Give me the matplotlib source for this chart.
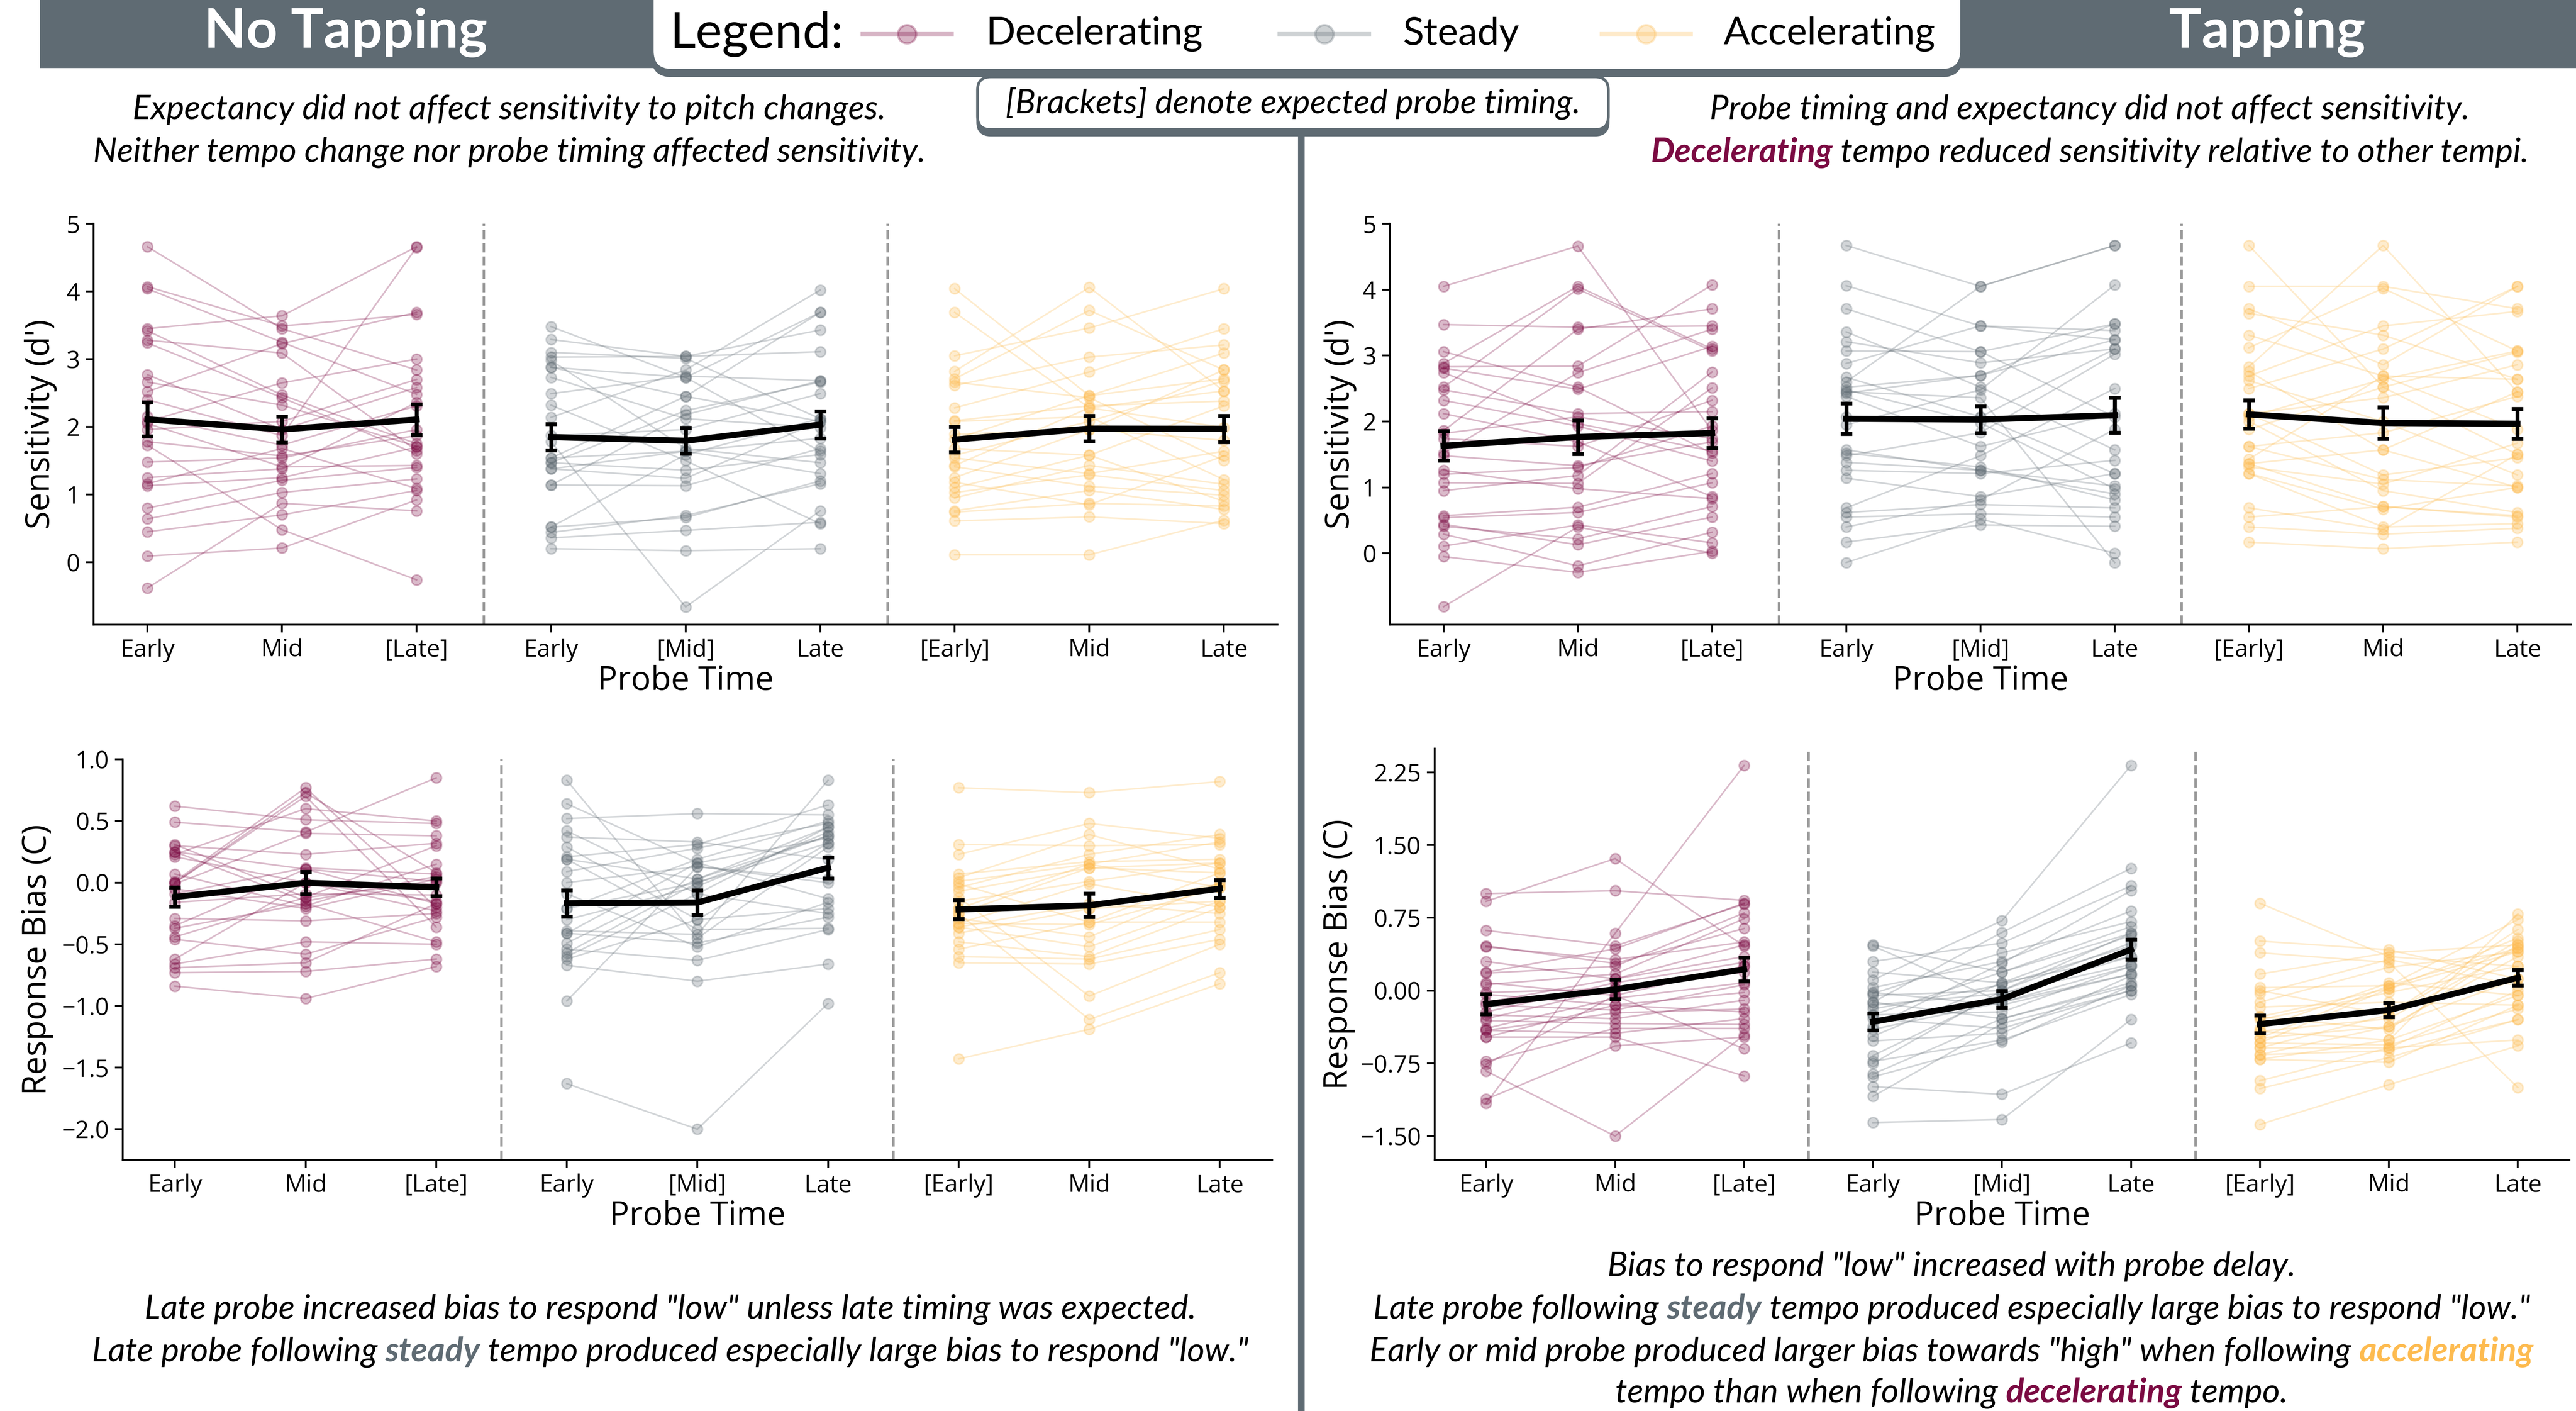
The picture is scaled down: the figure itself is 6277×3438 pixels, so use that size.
import numpy as np
import matplotlib
matplotlib.use('Agg')
import matplotlib.pyplot as plt
from matplotlib.patches import Rectangle, FancyBboxPatch
from matplotlib.lines import Line2D
from matplotlib.ticker import FuncFormatter

plt.rcParams['font.family'] = ['Open Sans', 'DejaVu Sans']

DECEL = '#7B0A42'
STEADY = '#5F6B73'
ACCEL = '#FDBB50'
SLATE = '#5F6B73'

# ---- No Tapping, sensitivity (d') : one value per participant, Early / Mid / Late
nt_sens_dec_early = [4.66, 4.07, 4.04, 3.45, 3.42, 3.28, 3.24, 2.77, 2.66, 2.52, 2.40, 2.15, 2.08, 2.05, 1.96, 1.78, 1.73, 1.48, 1.25, 1.16, 1.13, 0.80, 0.64, 0.45, 0.09, -0.38]
nt_sens_dec_mid = [3.45, 3.49, 3.25, 3.64, 2.47, 3.09, 2.43, 1.96, 2.32, 3.23, 1.87, 1.73, 2.65, 1.41, 2.08, 1.57, 0.48, 1.54, 1.38, 1.68, 1.25, 1.21, 1.03, 0.70, 0.21, 0.87]
nt_sens_dec_late = [2.84, 3.66, 2.48, 4.66, 1.75, 1.65, 1.60, 2.58, 1.71, 3.69, 4.65, 2.31, 3.00, 1.43, 2.70, 1.87, -0.26, 1.96, 2.36, 1.09, 1.70, 1.40, 1.23, 1.06, 0.92, 0.76]

nt_sens_std_early = [3.48, 3.29, 3.10, 3.03, 2.98, 2.88, 2.88, 2.73, 2.49, 2.32, 2.14, 1.87, 1.78, 1.54, 1.54, 1.47, 1.47, 1.38, 1.38, 1.14, 1.14, 0.52, 0.52, 0.44, 0.36, 0.20]
nt_sens_std_mid = [2.73, 3.04, 3.01, 3.04, 1.68, 2.45, 2.73, 2.12, 2.75, 1.50, 2.84, 1.96, -0.66, 2.45, 1.64, 2.24, 1.36, 1.24, 1.64, 2.18, 1.13, 1.59, 0.66, 0.69, 0.47, 0.17]
nt_sens_std_late = [1.64, 3.43, 2.12, 3.11, 1.47, 2.08, 3.69, 1.99, 2.68, 0.57, 4.02, 2.49, 0.76, 3.69, 1.83, 2.66, 1.59, 2.08, 1.31, 2.68, 1.68, 2.12, 1.20, 1.16, 0.59, 0.20]

nt_sens_acc_early = [4.04, 3.69, 3.05, 2.82, 2.71, 2.66, 2.61, 2.28, 2.09, 2.08, 1.89, 1.82, 1.68, 1.58, 1.54, 1.43, 1.41, 1.25, 1.18, 1.10, 1.03, 0.95, 0.76, 0.74, 0.61, 0.11]
nt_sens_acc_mid = [2.46, 2.28, 3.46, 4.06, 3.72, 2.43, 3.03, 2.81, 2.31, 2.15, 1.96, 2.46, 1.58, 2.08, 1.31, 2.28, 1.12, 1.96, 0.85, 1.58, 1.29, 1.43, 1.06, 0.87, 0.67, 0.11]
nt_sens_acc_late = [2.71, 1.99, 4.04, 2.53, 2.84, 1.50, 3.21, 3.45, 2.38, 1.22, 2.84, 3.09, 0.90, 2.68, 1.64, 2.53, 0.99, 1.80, 1.57, 2.31, 1.06, 1.15, 0.78, 0.83, 0.57, 0.62]

# ---- Tapping, sensitivity (d')
tap_sens_dec_early = [4.05, 3.47, 3.06, 2.88, 2.83, 2.81, 2.74, 2.52, 2.48, 2.32, 2.12, 1.86, 1.82, 1.74, 1.52, 1.48, 1.26, 1.20, 1.07, 0.95, 0.57, 0.54, 0.44, 0.41, 0.29, 0.11, -0.05, -0.81]
tap_sens_dec_mid = [4.66, 3.43, 2.52, 4.05, 2.84, 2.49, 1.97, 4.01, 2.12, 1.93, 1.69, 3.40, 2.07, 1.62, 2.74, 1.33, 0.98, 1.30, 1.06, 1.18, 0.70, 0.62, 0.13, 0.22, -0.19, 0.43, -0.29, 0.40]
tap_sens_dec_late = [1.86, 3.45, 1.52, 3.10, 4.07, 3.14, 1.55, 3.07, 2.15, 1.40, 0.86, 3.71, 1.74, 2.32, 3.40, 1.69, 0.83, 1.93, 2.51, 2.75, 1.21, 1.07, 0.55, 0.71, 0.32, 0.16, 0.03, 0.00]

tap_sens_std_early = [4.67, 4.06, 3.71, 3.36, 3.21, 3.07, 2.88, 2.67, 2.60, 2.52, 2.48, 2.45, 2.43, 2.38, 2.07, 1.95, 1.57, 1.52, 1.48, 1.38, 1.26, 1.14, 0.69, 0.62, 0.55, 0.40, 0.17, -0.14]
tap_sens_std_mid = [4.05, 3.45, 3.06, 2.52, 2.89, 3.06, 3.45, 2.07, 4.05, 2.70, 1.98, 2.36, 2.70, 1.62, 2.07, 2.48, 1.26, 1.31, 1.83, 1.26, 1.21, 0.86, 1.48, 0.74, 0.60, 0.81, 0.43, 0.52]
tap_sens_std_late = [4.67, 3.24, 3.48, 1.57, 3.10, 2.07, 3.38, 1.21, 4.67, 3.24, 0.98, -0.14, 3.48, 2.12, 3.10, 4.07, 1.02, 0.81, 3.02, 0.90, 1.41, 1.21, 2.50, 0.69, 0.55, 1.88, 0.41, 0.00]

tap_sens_acc_early = [4.67, 4.05, 3.71, 3.64, 3.31, 3.12, 2.83, 2.76, 2.69, 2.62, 2.50, 2.12, 2.12, 2.07, 2.00, 1.88, 1.62, 1.62, 1.43, 1.36, 1.36, 1.31, 1.21, 1.21, 0.69, 0.55, 0.40, 0.17]
tap_sens_acc_mid = [2.52, 4.05, 2.86, 3.31, 2.69, 4.02, 4.67, 1.57, 3.45, 2.00, 3.10, 2.36, 1.19, 2.64, 0.95, 2.52, 1.83, 1.12, 2.69, 0.71, 1.57, 1.05, 0.67, 0.40, 0.36, 0.71, 0.29, 0.07]
tap_sens_acc_late = [1.50, 3.71, 4.05, 2.64, 1.88, 3.07, 2.45, 1.00, 3.67, 1.19, 4.05, 2.86, 1.45, 3.07, 0.62, 3.05, 2.38, 1.02, 2.64, 0.57, 2.45, 1.67, 1.00, 0.45, 1.50, 0.55, 0.38, 0.17]

# ---- No Tapping, response bias (C)
nt_bias_dec_early = [0.62, 0.49, 0.31, 0.30, 0.25, 0.25, 0.23, 0.21, 0.07, 0.01, 0.00, 0.00, -0.01, -0.05, -0.09, -0.16, -0.29, -0.35, -0.37, -0.44, -0.46, -0.62, -0.66, -0.69, -0.73, -0.84]
nt_bias_dec_mid = [0.51, 0.41, -0.12, 0.23, 0.11, -0.15, 0.60, 0.00, -0.19, 0.77, 0.73, 0.70, 0.40, -0.21, 0.12, -0.09, -0.31, 0.11, -0.17, -0.12, -0.58, 0.00, -0.48, -0.65, -0.72, -0.94]
nt_bias_dec_late = [0.48, 0.85, 0.30, 0.32, -0.17, 0.05, 0.50, -0.23, 0.15, -0.20, 0.08, -0.36, 0.38, 0.03, 0.07, -0.10, -0.25, 0.01, -0.48, 0.00, -0.28, -0.15, -0.50, -0.17, -0.62, -0.68]

nt_bias_std_early = [0.83, 0.64, 0.52, 0.42, 0.37, 0.29, 0.21, 0.19, 0.19, 0.09, 0.00, -0.09, -0.21, -0.21, -0.30, -0.39, -0.41, -0.41, -0.49, -0.54, -0.57, -0.60, -0.62, -0.67, -0.96, -1.63]
nt_bias_std_mid = [-0.45, 0.16, 0.56, -0.09, 0.33, -0.30, 0.31, 0.03, -0.38, 0.28, 0.13, -0.52, 0.19, 0.00, -0.03, -0.42, 0.16, -0.49, 0.03, -0.63, 0.00, -0.09, -0.30, -0.80, 0.13, -2.00]
nt_bias_std_late = [0.29, -0.13, 0.55, 0.45, 0.19, -0.21, 0.63, 0.38, -0.37, 0.48, 0.03, -0.16, 0.50, 0.32, 0.41, 0.83, 0.36, -0.28, 0.45, -0.38, 0.38, -0.25, 0.32, -0.66, 0.00, -0.98]

nt_bias_acc_early = [0.77, 0.31, 0.23, 0.07, 0.04, 0.01, -0.01, -0.04, -0.07, -0.12, -0.15, -0.21, -0.21, -0.25, -0.25, -0.29, -0.33, -0.33, -0.36, -0.36, -0.41, -0.48, -0.54, -0.60, -0.65, -1.43]
nt_bias_acc_mid = [0.73, 0.30, 0.48, 0.17, 0.39, 0.15, -0.32, 0.23, 0.12, -0.92, 0.01, 0.15, -0.21, 0.12, -1.11, -0.44, -0.01, -0.34, -0.17, -0.52, -0.21, -0.60, -0.32, -0.62, -0.66, -1.19]
nt_bias_acc_late = [0.82, 0.31, 0.36, 0.19, 0.11, 0.33, 0.08, 0.39, 0.16, -0.50, 0.16, -0.04, -0.15, 0.08, -0.73, 0.00, -0.20, -0.04, -0.25, -0.15, -0.01, -0.20, -0.32, -0.38, -0.46, -0.82]

# ---- Tapping, response bias (C)
tap_bias_dec_early = [1.00, 0.92, 0.62, 0.46, 0.45, 0.30, 0.19, 0.18, 0.08, 0.06, -0.02, -0.04, -0.12, -0.15, -0.22, -0.25, -0.29, -0.31, -0.39, -0.41, -0.41, -0.48, -0.48, -0.73, -0.76, -0.83, -1.12, -1.16]
tap_bias_dec_mid = [1.03, 1.36, 0.46, 0.28, 0.32, 0.12, 0.43, 0.25, -0.05, 0.17, 0.02, -0.15, 0.12, -0.20, 0.08, -0.29, 0.02, -0.34, -0.08, -0.23, -0.44, -0.48, -0.15, -0.39, -0.05, -1.50, -0.57, 0.59]
tap_bias_dec_late = [0.93, 0.46, 0.89, 0.64, 0.50, 0.35, 0.90, 0.80, 0.25, 0.74, 0.19, -0.22, 0.47, 0.06, 0.29, -0.10, 0.25, -0.35, 0.08, -0.19, -0.29, -0.88, -0.02, -0.39, -0.60, -0.46, -0.48, 2.32]

tap_bias_std_early = [0.47, 0.46, 0.30, 0.19, 0.11, 0.03, -0.02, -0.03, -0.05, -0.12, -0.12, -0.15, -0.19, -0.25, -0.25, -0.29, -0.37, -0.40, -0.47, -0.52, -0.67, -0.73, -0.75, -0.86, -0.89, -0.99, -1.09, -1.36]
tap_bias_std_mid = [0.19, -0.12, 0.49, 0.08, 0.72, 0.30, -0.15, 0.39, 0.00, -0.29, 0.60, -0.03, 0.06, -0.22, 0.19, -0.39, 0.28, -0.12, 0.08, -0.44, -0.03, -0.51, 0.00, -0.29, -0.53, -1.07, -0.34, -1.33]
tap_bias_std_late = [0.59, 0.25, 1.08, 0.35, 2.32, 0.82, 0.17, 0.71, 0.49, 0.05, 1.26, 0.35, 0.46, 0.25, 0.66, 0.00, 1.03, 0.17, 0.57, 0.15, 0.27, -0.04, 0.59, 0.08, 0.05, -0.54, 0.00, -0.30]

tap_bias_acc_early = [0.90, 0.51, 0.39, 0.17, 0.03, 0.00, -0.03, -0.12, -0.17, -0.27, -0.27, -0.30, -0.39, -0.42, -0.42, -0.49, -0.49, -0.54, -0.54, -0.59, -0.59, -0.66, -0.66, -0.71, -0.71, -0.93, -1.01, -1.38]
tap_bias_acc_mid = [0.35, 0.42, 0.29, 0.39, 0.05, -0.25, 0.32, 0.24, -0.12, 0.02, -0.40, -0.02, 0.08, -0.51, -0.29, 0.05, -0.37, -0.56, 0.02, -0.59, -0.25, -0.62, -0.37, -0.51, -0.74, -0.59, -0.69, -0.97]
tap_bias_acc_late = [0.25, 0.12, -1.00, 0.47, 0.44, 0.63, 0.05, 0.40, -0.15, 0.54, 0.47, 0.25, -0.05, 0.79, 0.44, 0.73, 0.12, -0.19, 0.40, 0.00, 0.51, -0.30, 0.35, -0.05, -0.15, -0.51, -0.30, -0.57]

dec_labels = ['Early', 'Mid', '[Late]']
std_labels = ['Early', '[Mid]', 'Late']
acc_labels = ['[Early]', 'Mid', 'Late']

# reference is laid out on a 1568 x 859 grid
W_PX, H_PX = 1568, 859
S = 6277 / 1568 / 400  # inches per grid unit

fig = plt.figure(figsize=(6277 / 400, 3438 / 400), dpi=400)
fig.patch.set_facecolor('white')


def inch(x, y):
    return (x * S, (H_PX - y) * S)


def rect(l, t, r, b):
    return [l / W_PX, 1 - b / H_PX, (r - l) / W_PX, (b - t) / H_PX]


def minus_fmt(fmt):
    return FuncFormatter(lambda v, p: (fmt % v).replace('-', '\u2212'))


def draw_row(rect_, groups, ylim, yticks, fmt, ylabel, ylab_x):
    ax = fig.add_axes(rect_)
    labels = []
    for k, (cols, color, names) in enumerate(groups):
        xs = np.arange(3) + 3 * k
        arr = np.array(cols, dtype=float)
        for j in range(arr.shape[1]):
            ax.plot(xs, arr[:, j], color=color, alpha=0.28, lw=0.7,
                    marker='o', ms=4.5, mew=0.7, zorder=2)
        mean = arr.mean(axis=1)
        sem = arr.std(axis=1, ddof=1) / np.sqrt(arr.shape[1])
        ax.errorbar(xs, mean, yerr=sem, color='black', lw=2.7, elinewidth=1.7,
                    capsize=2.6, capthick=1.7, zorder=5)
        labels += names
    for xv in (2.5, 5.5):
        ax.axvline(xv, color='#9a9a9a', ls='--', lw=1.1, zorder=1)
    ax.set_xlim(-0.4, 8.4)
    ax.set_ylim(*ylim)
    ax.set_xticks(np.arange(9))
    ax.set_xticklabels(labels)
    ax.set_yticks(yticks)
    ax.yaxis.set_major_formatter(minus_fmt(fmt))
    ax.tick_params(labelsize=10.5, length=3.5, width=0.8, pad=2.5)
    for side in ('top', 'right'):
        ax.spines[side].set_visible(False)
    for side in ('left', 'bottom'):
        ax.spines[side].set_linewidth(0.8)
    ax.set_xlabel('Probe Time', fontsize=14.5, labelpad=1)
    ax.set_ylabel(ylabel, fontsize=14.5)
    ax.yaxis.set_label_coords(ylab_x, 0.5)
    return ax


draw_row(rect(57, 136.2, 777.7, 380.2),
         [((nt_sens_dec_early, nt_sens_dec_mid, nt_sens_dec_late), DECEL, dec_labels),
          ((nt_sens_std_early, nt_sens_std_mid, nt_sens_std_late), STEADY, std_labels),
          ((nt_sens_acc_early, nt_sens_acc_mid, nt_sens_acc_late), ACCEL, acc_labels)],
         (-0.92, 5.0), [0, 1, 2, 3, 4, 5], '%d', "Sensitivity (d')", -0.031)

draw_row(rect(846, 136.2, 1565, 380.2),
         [((tap_sens_dec_early, tap_sens_dec_mid, tap_sens_dec_late), DECEL, dec_labels),
          ((tap_sens_std_early, tap_sens_std_mid, tap_sens_std_late), STEADY, std_labels),
          ((tap_sens_acc_early, tap_sens_acc_mid, tap_sens_acc_late), ACCEL, acc_labels)],
         (-1.08, 5.0), [0, 1, 2, 3, 4, 5], '%d', "Sensitivity (d')", -0.028)

draw_row(rect(74.7, 462.3, 774.3, 706.2),
         [((nt_bias_dec_early, nt_bias_dec_mid, nt_bias_dec_late), DECEL, dec_labels),
          ((nt_bias_std_early, nt_bias_std_mid, nt_bias_std_late), STEADY, std_labels),
          ((nt_bias_acc_early, nt_bias_acc_mid, nt_bias_acc_late), ACCEL, acc_labels)],
         (-2.25, 1.0), [-2.0, -1.5, -1.0, -0.5, 0.0, 0.5, 1.0], '%.1f', 'Response Bias (C)', -0.060)

draw_row(rect(873.2, 455.7, 1564, 706.1),
         [((tap_bias_dec_early, tap_bias_dec_mid, tap_bias_dec_late), DECEL, dec_labels),
          ((tap_bias_std_early, tap_bias_std_mid, tap_bias_std_late), STEADY, std_labels),
          ((tap_bias_acc_early, tap_bias_acc_mid, tap_bias_acc_late), ACCEL, acc_labels)],
         (-1.745, 2.495), [-1.5, -0.75, 0.0, 0.75, 1.5, 2.25], '%.2f', 'Response Bias (C)', -0.070)

# ---- header, boxes and divider
tr = fig.dpi_scale_trans
fig.add_artist(Rectangle(inch(25, 41), (W_PX - 25) * S + 0.05, 41 * S + 0.05,
                         transform=tr, color=SLATE, zorder=0))


def card(l, t, r, b, rnd):
    x0, y0 = inch(l, b)
    w, h = (r - l) * S, (b - t) * S
    fig.add_artist(FancyBboxPatch((x0, y0 - 0.035), w, h, transform=tr,
                                  boxstyle='round,pad=0,rounding_size=%g' % rnd,
                                  fc=SLATE, ec=SLATE, lw=1, zorder=3))
    fig.add_artist(FancyBboxPatch((x0, y0), w, h, transform=tr,
                                  boxstyle='round,pad=0,rounding_size=%g' % rnd,
                                  fc='white', ec=SLATE, lw=1.2, zorder=4))


card(397, -20, 1194, 43, 0.12)
card(595, 47, 979, 79, 0.08)
fig.add_artist(Line2D([792 * S, 792 * S], [0, (H_PX - 81) * S], transform=tr,
                      color=SLATE, lw=2.9, zorder=2))

fig.text(*inch(210.5, 20), 'No Tapping', transform=tr, ha='center', va='center',
         color='white', fontsize=24, fontweight='bold', family=['Lato', 'DejaVu Sans'], zorder=6)
fig.text(*inch(1380, 20), 'Tapping', transform=tr, ha='center', va='center',
         color='white', fontsize=24, fontweight='bold', family=['Lato', 'DejaVu Sans'], zorder=6)

# legend inside the card
fig.text(*inch(408, 21), 'Legend:', transform=tr, ha='left', va='center',
         fontsize=22, family=['Lato', 'DejaVu Sans'], zorder=6)
for x0, x1, xl, color, name in [(525, 579, 600, DECEL, 'Decelerating'),
                                (779, 833, 854, STEADY, 'Steady'),
                                (975, 1029, 1049, ACCEL, 'Accelerating')]:
    yy = (H_PX - 21) * S
    fig.add_artist(Line2D([x0 * S, (x0 + x1) / 2 * S, x1 * S], [yy, yy, yy], transform=tr,
                          color=color, alpha=0.3, lw=2, marker='o', ms=8, markevery=[1], zorder=6))
    fig.text(*inch(xl, 21), name, transform=tr, ha='left', va='center',
             fontsize=17, family=['Lato', 'DejaVu Sans'], zorder=6)

fig.text(*inch(787, 63), '[Brackets] denote expected probe timing.', transform=tr,
         ha='center', va='center', fontsize=14.8, style='italic',
         family=['Lato', 'DejaVu Sans'], zorder=6)

# ---- captions with coloured keywords
renderer = fig.canvas.get_renderer()
CAP = dict(fontsize=14.8, style='italic', family=['Lato', 'DejaVu Sans'], transform=tr,
           va='center', ha='left', zorder=6)


def text_w(t):
    return t.get_window_extent(renderer=renderer).width / fig.dpi


def rich(xc, y, parts):
    if isinstance(parts, str):
        parts = [(parts, 'black', 'normal')]
    probe1 = fig.text(0, 0, 'a a', **CAP)
    probe2 = fig.text(0, 0, 'aa', **CAP)
    space = text_w(probe1) - text_w(probe2)
    probe1.remove()
    probe2.remove()
    objs = []
    for s, c, w in parts:
        objs.append(fig.text(0, 0, s, color=c, fontweight=w, **CAP))
    widths = [text_w(t) for t in objs]
    total = sum(widths) + space * (len(objs) - 1)
    x = xc * S - total / 2
    for t, w in zip(objs, widths):
        t.set_position((x, (H_PX - y) * S))
        x += w + space


K = 'black'
steady_line = [('Late probe following', K, 'normal'), ('steady', STEADY, 'bold'),
               ('tempo produced especially large bias to respond "low."', K, 'normal')]

rich(310, 67, 'Expectancy did not affect sensitivity to pitch changes.')
rich(310, 93, 'Neither tempo change nor probe timing affected sensitivity.')
rich(1272, 67, 'Probe timing and expectancy did not affect sensitivity.')
rich(1272, 93, [('Decelerating', DECEL, 'bold'),
                ('tempo reduced sensitivity relative to other tempi.', K, 'normal')])
rich(408, 797, 'Late probe increased bias to respond "low" unless late timing was expected.')
rich(408, 823, steady_line)
rich(1188, 771, 'Bias to respond "low" increased with probe delay.')
rich(1188, 797, steady_line)
rich(1188, 823, [('Early or mid probe produced larger bias towards "high" when following', K, 'normal'),
                 ('accelerating', ACCEL, 'bold')])
rich(1188, 848, [('tempo than when following', K, 'normal'), ('decelerating', DECEL, 'bold'),
                 ('tempo.', K, 'normal')])

fig.savefig('out.png', dpi=400)
